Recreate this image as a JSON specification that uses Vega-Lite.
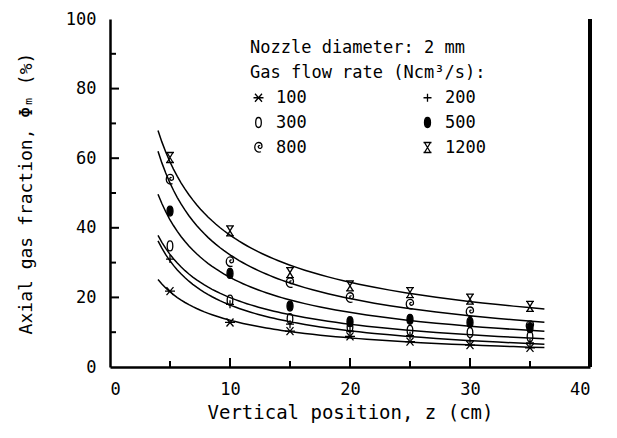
{
  "$schema": "https://vega.github.io/schema/vega-lite/v6.json",
  "width": 480,
  "height": 348,
  "autosize": {"type": "none"},
  "padding": {"left": 110, "top": 19, "right": 27, "bottom": 71},
  "background": "white",
  "config": {
    "view": {"stroke": null},
    "font": "DejaVu Sans Mono",
    "axis": {
      "domainColor": "black",
      "domainWidth": 2.5,
      "ticks": false,
      "grid": false,
      "labelFont": "DejaVu Sans Mono",
      "labelFontSize": 17,
      "labelColor": "black",
      "titleFont": "DejaVu Sans Mono",
      "titleFontWeight": "normal",
      "titleColor": "black"
    },
    "legend": {
      "labelFont": "DejaVu Sans Mono",
      "titleFont": "DejaVu Sans Mono"
    }
  },
  "data": {
    "values": [
      {"z": 5, "phi": 21.8, "rate": 100}, {"z": 10, "phi": 12.8, "rate": 100}, {"z": 15, "phi": 10.3, "rate": 100}, {"z": 20, "phi": 8.8, "rate": 100}, {"z": 25, "phi": 7.3, "rate": 100}, {"z": 30, "phi": 6.3, "rate": 100}, {"z": 35, "phi": 5.5, "rate": 100},
      {"z": 5, "phi": 31.0, "rate": 200}, {"z": 10, "phi": 18.0, "rate": 200}, {"z": 15, "phi": 12.3, "rate": 200}, {"z": 20, "phi": 10.3, "rate": 200}, {"z": 25, "phi": 9.0, "rate": 200}, {"z": 30, "phi": 7.5, "rate": 200}, {"z": 35, "phi": 6.9, "rate": 200},
      {"z": 5, "phi": 34.8, "rate": 300}, {"z": 10, "phi": 19.2, "rate": 300}, {"z": 15, "phi": 13.9, "rate": 300}, {"z": 20, "phi": 11.5, "rate": 300}, {"z": 25, "phi": 10.5, "rate": 300}, {"z": 30, "phi": 9.9, "rate": 300}, {"z": 35, "phi": 8.7, "rate": 300},
      {"z": 5, "phi": 44.8, "rate": 500}, {"z": 10, "phi": 26.9, "rate": 500}, {"z": 15, "phi": 17.5, "rate": 500}, {"z": 20, "phi": 13.0, "rate": 500}, {"z": 25, "phi": 13.7, "rate": 500}, {"z": 30, "phi": 12.8, "rate": 500}, {"z": 35, "phi": 11.3, "rate": 500},
      {"z": 5, "phi": 53.9, "rate": 800}, {"z": 10, "phi": 30.2, "rate": 800}, {"z": 15, "phi": 24.2, "rate": 800}, {"z": 20, "phi": 19.9, "rate": 800}, {"z": 25, "phi": 18.0, "rate": 800}, {"z": 30, "phi": 15.8, "rate": 800}, {"z": 35, "phi": 11.8, "rate": 800},
      {"z": 5, "phi": 60.2, "rate": 1200}, {"z": 10, "phi": 39.1, "rate": 1200}, {"z": 15, "phi": 27.1, "rate": 1200}, {"z": 20, "phi": 23.3, "rate": 1200}, {"z": 25, "phi": 21.4, "rate": 1200}, {"z": 30, "phi": 19.5, "rate": 1200}, {"z": 35, "phi": 17.4, "rate": 1200}
    ]
  },
  "layer": [
    {
      "transform": [
        {"regression": "phi", "on": "z", "groupby": ["rate"], "method": "pow", "extent": [4, 36.2]}
      ],
      "mark": {"type": "line", "color": "black", "strokeWidth": 1.5},
      "encoding": {
        "x": {
          "field": "z", "type": "quantitative",
          "scale": {"domain": [0, 40], "nice": false},
          "axis": {
            "values": [0, 10, 20, 30, 40],
            "labelPadding": 14,
            "title": "Vertical position, z (cm)",
            "titleFontSize": 19,
            "titlePadding": 6
          }
        },
        "y": {
          "field": "phi", "type": "quantitative",
          "scale": {"domain": [0, 100], "nice": false},
          "axis": {
            "values": [0, 20, 40, 60, 80, 100],
            "labelPadding": 14,
            "title": "Axial gas fraction, Φₘ (%)",
            "titleFontSize": 18,
            "titlePadding": 30
          }
        },
        "detail": {"field": "rate", "type": "nominal"}
      }
    },
    {
      "data": {"values": [{"t": 10}, {"t": 20}, {"t": 30}]},
      "mark": {"type": "rule", "color": "black", "strokeWidth": 2},
      "encoding": {"x": {"field": "t", "type": "quantitative"}, "y": {"datum": 0}, "y2": {"datum": 2.6}}
    },
    {
      "data": {"values": [{"t": 5}, {"t": 15}, {"t": 25}, {"t": 35}]},
      "mark": {"type": "rule", "color": "black", "strokeWidth": 2},
      "encoding": {"x": {"field": "t", "type": "quantitative"}, "y": {"datum": 0}, "y2": {"datum": 1.7}}
    },
    {
      "data": {"values": [{"t": 20}, {"t": 40}, {"t": 60}, {"t": 80}]},
      "mark": {"type": "rule", "color": "black", "strokeWidth": 2},
      "encoding": {"y": {"field": "t", "type": "quantitative"}, "x": {"datum": 0}, "x2": {"datum": 0.75}}
    },
    {
      "data": {"values": [{"t": 10}, {"t": 30}, {"t": 50}, {"t": 70}, {"t": 90}]},
      "mark": {"type": "rule", "color": "black", "strokeWidth": 2},
      "encoding": {"y": {"field": "t", "type": "quantitative"}, "x": {"datum": 0}, "x2": {"datum": 0.5}}
    },
    {
      "mark": {"type": "point", "filled": false, "strokeWidth": 1.3, "size": 100, "opacity": 1},
      "encoding": {
        "x": {"field": "z", "type": "quantitative"},
        "y": {"field": "phi", "type": "quantitative"},
        "shape": {
          "field": "rate", "type": "nominal",
          "scale": {
            "domain": [100, 200, 300, 500, 800, 1200],
            "range": [
              "M-1,0L1,0M-0.7,-0.8L0.7,0.8M-0.7,0.8L0.7,-0.8",
              "M-0.8,0L0.8,0M0,-0.8L0,0.8",
              "M0,-1C0.75,-1 0.75,1 0,1C-0.75,1 -0.75,-1 0,-1Z",
              "M0,-1C0.8,-1 0.8,1 0,1C-0.8,1 -0.8,-1 0,-1Z",
              "M0.5,0.85C-0.2,1.1 -0.75,0.6 -0.75,0C-0.75,-0.6 -0.4,-1 0,-1C0.5,-1 0.7,-0.6 0.7,-0.2C0.7,0.2 0.2,0.3 0,0C-0.2,-0.3 0.2,-0.5 0.3,-0.3",
              "M-0.8,-1L0.8,-1M-0.8,1L0.8,1M-0.6,-1L0.6,1M0.6,-1L-0.6,1"
            ]
          },
          "legend": {
            "orient": "none",
            "legendX": 140,
            "legendY": 21,
            "columns": 2,
            "direction": "horizontal",
            "title": ["Nozzle diameter: 2 mm", "Gas flow rate (Ncm³/s):"],
            "titleFontSize": 17,
            "titleFontWeight": "normal",
            "titleColor": "black",
            "titleLimit": 400,
            "titleLineHeight": 25,
            "titlePadding": 7,
            "labelFontSize": 17,
            "labelColor": "black",
            "labelOffset": 9,
            "symbolOffset": 0,
            "symbolSize": 100,
            "symbolStrokeWidth": 1.3,
            "rowPadding": 7,
            "columnPadding": 112,
            "padding": 0
          }
        },
        "fill": {
          "field": "rate", "type": "nominal",
          "scale": {
            "domain": [100, 200, 300, 500, 800, 1200],
            "range": ["transparent", "transparent", "transparent", "black", "transparent", "transparent"]
          }
        },
        "stroke": {
          "field": "rate", "type": "nominal",
          "scale": {
            "domain": [100, 200, 300, 500, 800, 1200],
            "range": ["black", "black", "black", "black", "black", "black"]
          }
        }
      }
    },
    {
      "mark": {"type": "rule", "color": "black", "strokeWidth": 2.5},
      "encoding": {
        "x": {"datum": 40},
        "y": {"datum": 0},
        "y2": {"datum": 100}
      }
    }
  ]
}
